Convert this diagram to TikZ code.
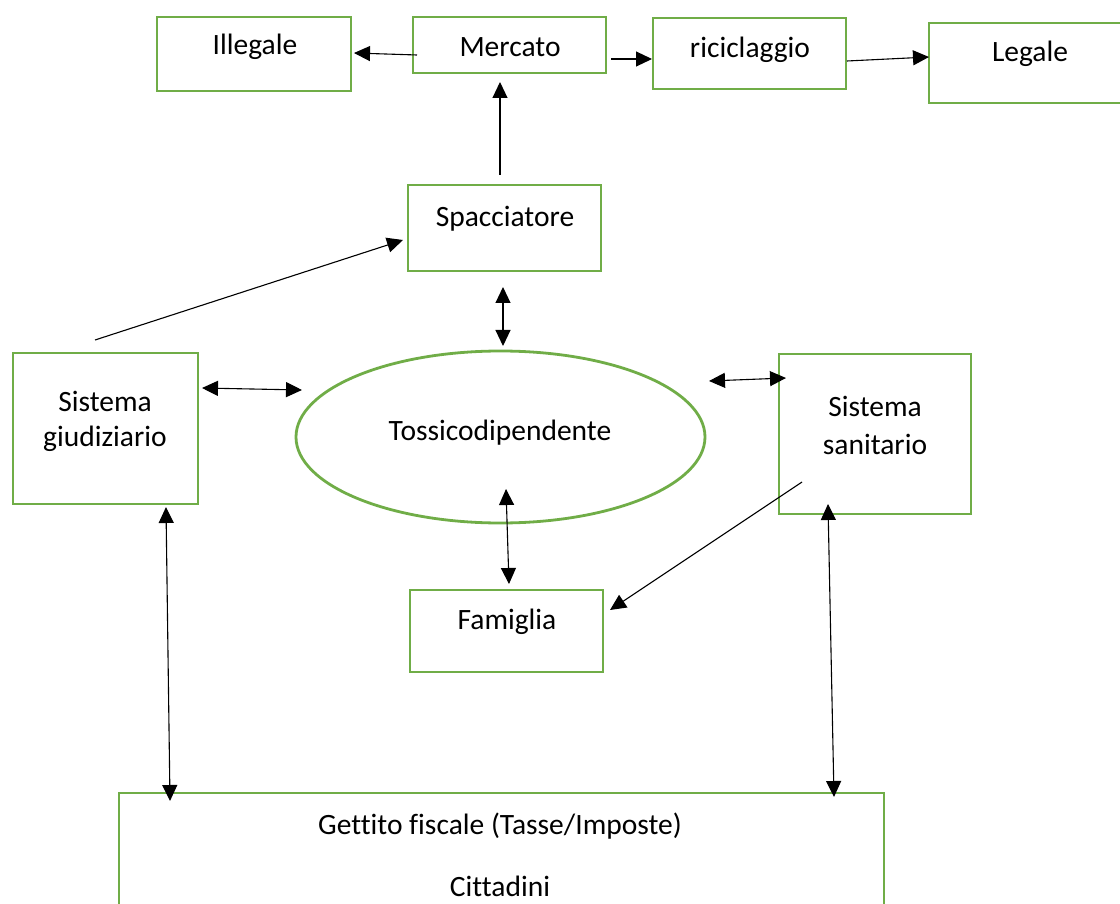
\documentclass[tikz,border=0pt]{standalone}
\usepackage{fontspec}
\setmainfont[Ligatures=NoCommon]{Carlito}
\usetikzlibrary{arrows.meta}
\definecolor{boxgreen}{HTML}{70AD47}
\begin{document}
\begin{tikzpicture}[x=1pt,y=-1pt,
  gbox/.style={draw=boxgreen,line width=2.8pt,rectangle,inner sep=0pt},
  lbl/.style={font=\fontsize{29.5}{34}\selectfont,inner sep=0pt,anchor=center},
  conn/.style={line width=1.1pt,-{Triangle[length=16pt,width=15pt]}},
  dconn/.style={line width=1.1pt,{Triangle[length=16pt,width=15pt]}-{Triangle[length=16pt,width=15pt]}}]
\useasboundingbox (0,0) rectangle (1120,904);
\fill[white] (0,0) rectangle (1120,904);
% boxes
\node[gbox,minimum width=194pt,minimum height=74pt] (ill) at (254,54) {};
\node[gbox,minimum width=193pt,minimum height=56pt] (mer) at (509.5,45) {};
\node[gbox,minimum width=193pt,minimum height=71pt] (ric) at (749.5,53.5) {};
\node[gbox,minimum width=200pt,minimum height=80pt] (leg) at (1029,63) {};
\node[gbox,minimum width=193pt,minimum height=86pt] (spa) at (504.5,228) {};
\node[gbox,minimum width=185pt,minimum height=151pt] (sg) at (105.5,428.5) {};
\node[gbox,minimum width=192pt,minimum height=160pt] (ss) at (875,434) {};
\node[gbox,minimum width=193pt,minimum height=82pt] (fam) at (506.5,631) {};
\node[gbox,minimum width=765pt,minimum height=140pt] (get) at (501.5,863) {};
\draw[boxgreen,line width=2.8pt] (500.5,437) ellipse [x radius=204.5pt, y radius=86pt];
\coordinate (tos) at (500.5,437);
% texts
\node[lbl] (tIll) at (255,47) {Illegale};
\node[lbl] (tMer) at (510,47) {Mercato};
\node[lbl] (tRic) at (750,50) {riciclaggio};
\node[lbl] (tLeg) at (1030,54) {Legale};
\node[lbl] (tSpa) at (505,219) {Spacciatore};
\node[lbl] (tSg1) at (105,401) {Sistema};
\node[lbl] (tSg2) at (105,439) {giudiziario};
\node[lbl] (tTos) at (500,433) {Tossicodipendente};
\node[lbl] (tSs1) at (875,406) {Sistema};
\node[lbl] (tSs2) at (875,444) {sanitario};
\node[lbl] (tFam) at (507,622) {Famiglia};
\node[lbl] (tGe1) at (500,826) {Gettito fiscale (Tasse/Imposte)};
\node[lbl] (tGe2) at (500,886) {Cittadini};
% connector end points
\coordinate (a1) at (417,55); \coordinate (b1) at (354,53);
\coordinate (a2) at (611,59); \coordinate (b2) at (652,59);
\coordinate (a3) at (847,61); \coordinate (b3) at (929,57);
\coordinate (a4) at (500,175); \coordinate (b4) at (500,82);
\coordinate (a5) at (95,340); \coordinate (b5) at (403,240);
\coordinate (a6) at (503,287); \coordinate (b6) at (503,346);
\coordinate (a7) at (202,388); \coordinate (b7) at (302,390);
\coordinate (a8) at (709,381); \coordinate (b8) at (786,378);
\coordinate (a9) at (506,489); \coordinate (b9) at (509,584);
\coordinate (a10) at (802,482); \coordinate (b10) at (610,610);
\coordinate (a11) at (166,507); \coordinate (b11) at (170,801);
\coordinate (a12) at (828,504); \coordinate (b12) at (834,797);
% connectors
\draw[conn] (a1) -- (b1);
\draw[conn] (a2) -- (b2);
\draw[conn] (a3) -- (b3);
\draw[conn] (a4) -- (b4);
\draw[conn] (a5) -- (b5);
\draw[dconn] (a6) -- (b6);
\draw[dconn] (a7) -- (b7);
\draw[dconn] (a8) -- (b8);
\draw[dconn] (a9) -- (b9);
\draw[conn] (a10) -- (b10);
\draw[dconn] (a11) -- (b11);
\draw[dconn] (a12) -- (b12);
\end{tikzpicture}
\end{document}
